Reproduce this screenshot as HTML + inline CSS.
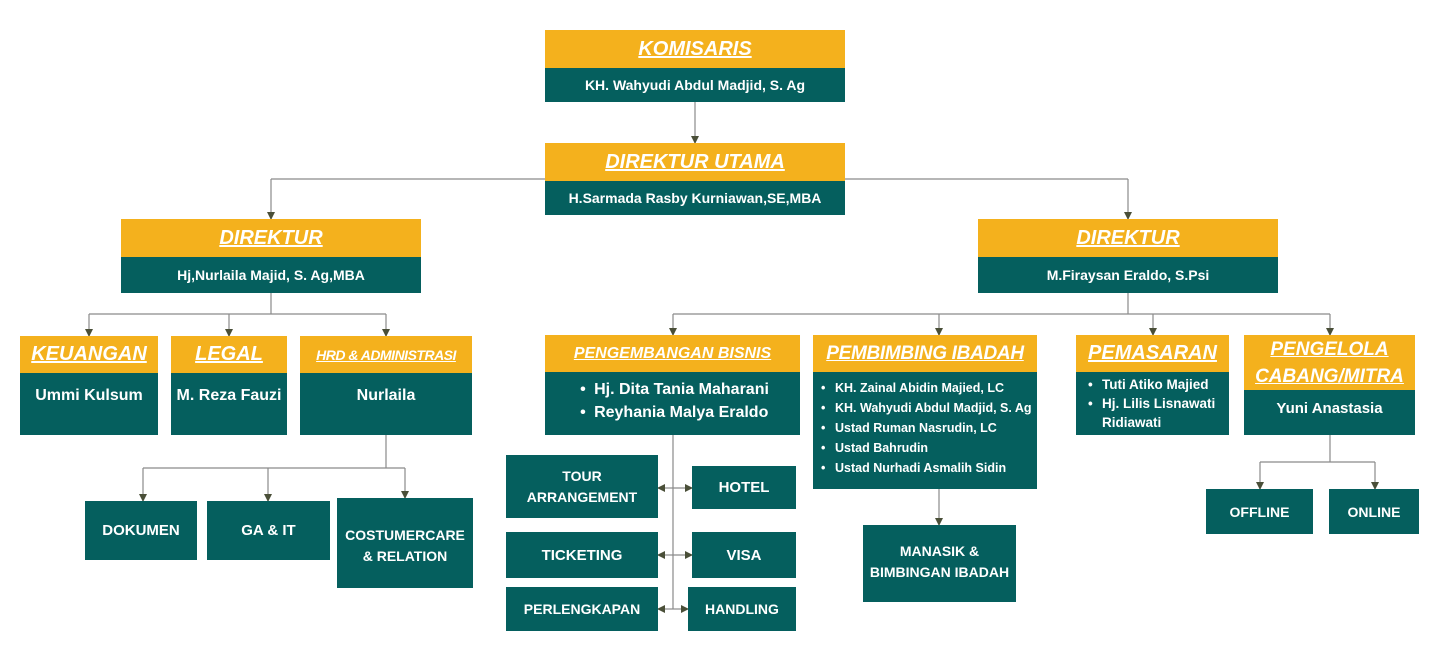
<!DOCTYPE html>
<html><head><meta charset="utf-8"><style>
*{margin:0;padding:0;box-sizing:border-box}
body{width:1440px;height:658px;background:#fff;position:relative;overflow:hidden;font-family:"Liberation Sans",Arial,sans-serif;}
.b{position:absolute;background:#055f5e;color:#fff;font-weight:bold;display:flex;align-items:center;justify-content:center;text-align:center;}
.h{position:absolute;background:#f4b11d;color:#fff;font-weight:bold;font-style:italic;text-decoration:underline;display:flex;align-items:center;justify-content:center;text-align:center;}
ul{list-style:none;text-align:left;white-space:nowrap}
li:before{content:"•";display:inline-block;width:18px;text-indent:4px}
svg{position:absolute;left:0;top:0}
</style></head><body>
<svg width="1440" height="658">
<defs>
<marker id="r" markerWidth="8" markerHeight="8" refX="7" refY="4" orient="auto" markerUnits="userSpaceOnUse"><path d="M0,0 L8,4 L0,8z" fill="#4a4f38"/></marker></defs>
<g stroke="#8a8a8a" stroke-width="1.2" fill="none">
<path d="M695,102V143" marker-end="url(#r)"/>
<path d="M271,179H1128"/>
<path d="M271,179V219" marker-end="url(#r)"/>
<path d="M1128,179V219" marker-end="url(#r)"/>
<path d="M271,293V314M89,314H386"/>
<path d="M89,314V336" marker-end="url(#r)"/><path d="M229,314V336" marker-end="url(#r)"/><path d="M386,314V336" marker-end="url(#r)"/>
<path d="M1128,293V314M673,314H1330"/>
<path d="M673,314V335" marker-end="url(#r)"/><path d="M939,314V335" marker-end="url(#r)"/><path d="M1153,314V335" marker-end="url(#r)"/><path d="M1330,314V335" marker-end="url(#r)"/>
<path d="M386,435V468M143,468H405"/>
<path d="M143,468V501" marker-end="url(#r)"/><path d="M268,468V501" marker-end="url(#r)"/><path d="M405,468V498" marker-end="url(#r)"/>
<path d="M673,435V609"/>
<path d="M673,488H658" marker-end="url(#r)"/><path d="M673,488H692" marker-end="url(#r)"/>
<path d="M673,555H658" marker-end="url(#r)"/><path d="M673,555H692" marker-end="url(#r)"/>
<path d="M673,609H658" marker-end="url(#r)"/><path d="M673,609H688" marker-end="url(#r)"/>
<path d="M939,489V525" marker-end="url(#r)"/>
<path d="M1330,435V462M1260,462H1375"/>
<path d="M1260,462V489" marker-end="url(#r)"/><path d="M1375,462V489" marker-end="url(#r)"/>
</g></svg>

<div class="h" style="left:545px;top:30px;width:300px;height:38px;font-size:20px">KOMISARIS</div>
<div class="b" style="left:545px;top:68px;width:300px;height:34px;font-size:14px">KH. Wahyudi Abdul Madjid, S. Ag</div>
<div class="h" style="left:545px;top:143px;width:300px;height:38px;font-size:20px">DIREKTUR UTAMA</div>
<div class="b" style="left:545px;top:181px;width:300px;height:34px;font-size:14px">H.Sarmada Rasby Kurniawan,SE,MBA</div>
<div class="h" style="left:121px;top:219px;width:300px;height:38px;font-size:20px">DIREKTUR</div>
<div class="b" style="left:121px;top:257px;width:300px;height:36px;font-size:14px">Hj,Nurlaila Majid, S. Ag,MBA</div>
<div class="h" style="left:978px;top:219px;width:300px;height:38px;font-size:20px">DIREKTUR</div>
<div class="b" style="left:978px;top:257px;width:300px;height:36px;font-size:14px">M.Firaysan Eraldo, S.Psi</div>

<div class="h" style="left:20px;top:336px;width:138px;height:37px;font-size:20px">KEUANGAN</div>
<div class="b" style="left:20px;top:373px;width:138px;height:62px;font-size:16px;align-items:flex-start;padding-top:14px">Ummi Kulsum</div>
<div class="h" style="left:171px;top:336px;width:116px;height:37px;font-size:20px">LEGAL</div>
<div class="b" style="left:171px;top:373px;width:116px;height:62px;font-size:16px;align-items:flex-start;padding-top:14px">M. Reza Fauzi</div>
<div class="h" style="left:300px;top:336px;width:172px;height:37px;font-size:14px;letter-spacing:-0.5px">HRD &amp; ADMINISTRASI</div>
<div class="b" style="left:300px;top:373px;width:172px;height:62px;font-size:16px;align-items:flex-start;padding-top:14px">Nurlaila</div>

<div class="b" style="left:85px;top:501px;width:112px;height:59px;font-size:15px">DOKUMEN</div>
<div class="b" style="left:207px;top:501px;width:123px;height:59px;font-size:15px">GA &amp; IT</div>
<div class="b" style="left:337px;top:498px;width:136px;height:90px;font-size:14px;line-height:21px;align-items:flex-start;padding-top:27px">COSTUMERCARE<br>&amp; RELATION</div>

<div class="h" style="left:545px;top:335px;width:255px;height:37px;font-size:16px">PENGEMBANGAN BISNIS</div>
<div class="b" style="left:545px;top:372px;width:255px;height:63px;font-size:16px;font-weight:bold"><ul style="line-height:23px;margin-top:-5px"><li>Hj. Dita Tania Maharani</li><li>Reyhania Malya Eraldo</li></ul></div>
<div class="b" style="left:506px;top:455px;width:152px;height:63px;font-size:14px;line-height:21px">TOUR<br>ARRANGEMENT</div>
<div class="b" style="left:692px;top:466px;width:104px;height:43px;font-size:15px">HOTEL</div>
<div class="b" style="left:506px;top:532px;width:152px;height:46px;font-size:15px">TICKETING</div>
<div class="b" style="left:692px;top:532px;width:104px;height:46px;font-size:15px">VISA</div>
<div class="b" style="left:506px;top:587px;width:152px;height:44px;font-size:14px">PERLENGKAPAN</div>
<div class="b" style="left:688px;top:587px;width:108px;height:44px;font-size:14px">HANDLING</div>

<div class="h" style="left:813px;top:335px;width:224px;height:37px;font-size:19px;letter-spacing:-0.3px">PEMBIMBING IBADAH</div>
<div class="b" style="left:813px;top:372px;width:224px;height:117px;font-size:12.5px;justify-content:flex-start;align-items:flex-start;padding:6px 0 0 4px;overflow:hidden"><ul style="line-height:20px"><li>KH. Zainal Abidin Majied, LC</li><li>KH. Wahyudi Abdul Madjid, S. Ag</li><li>Ustad Ruman Nasrudin, LC</li><li>Ustad Bahrudin</li><li>Ustad Nurhadi Asmalih Sidin</li></ul></div>
<div class="b" style="left:863px;top:525px;width:153px;height:77px;font-size:14px;line-height:21px;align-items:flex-start;padding-top:16px">MANASIK &amp;<br>BIMBINGAN IBADAH</div>

<div class="h" style="left:1076px;top:335px;width:153px;height:37px;font-size:20px">PEMASARAN</div>
<div class="b" style="left:1076px;top:372px;width:153px;height:63px;font-size:13.5px;justify-content:flex-start;align-items:flex-start;padding:3px 0 0 8px"><ul style="line-height:19px"><li>Tuti Atiko Majied</li><li>Hj. Lilis Lisnawati<br><span style="padding-left:18px">Ridiawati</span></li></ul></div>

<div class="h" style="left:1244px;top:335px;width:171px;height:55px;font-size:19px;line-height:27px">PENGELOLA<br>CABANG/MITRA</div>
<div class="b" style="left:1244px;top:390px;width:171px;height:45px;font-size:15px;align-items:flex-start;padding-top:10px">Yuni Anastasia</div>
<div class="b" style="left:1206px;top:489px;width:107px;height:45px;font-size:14px">OFFLINE</div>
<div class="b" style="left:1329px;top:489px;width:90px;height:45px;font-size:14px">ONLINE</div>
</body></html>
